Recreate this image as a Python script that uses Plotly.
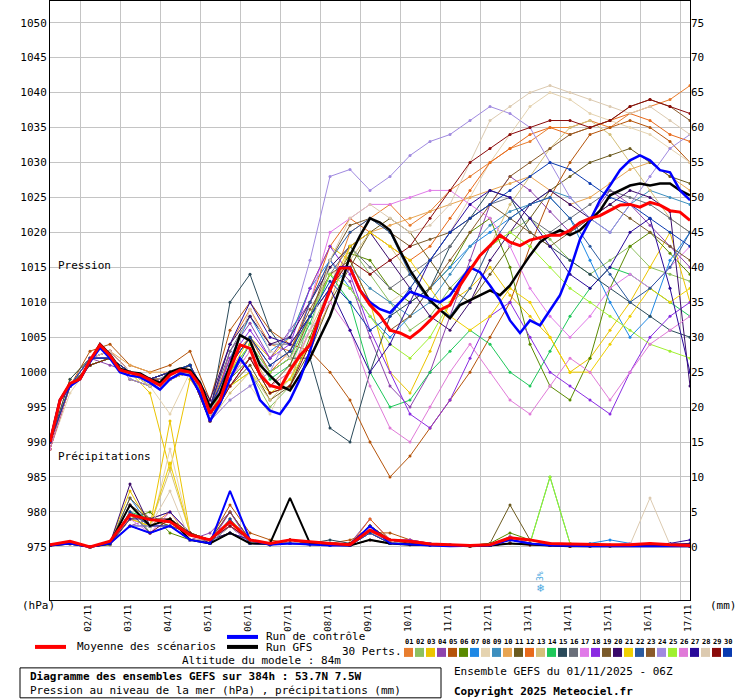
import plotly.graph_objects as go

hours6 = list(range(0, 385, 6))
hours12 = list(range(0, 385, 12))
day_labels = ["02/11","03/11","04/11","05/11","06/11","07/11","08/11","09/11","10/11",
              "11/11","12/11","13/11","14/11","15/11","16/11","17/11"]
day_hours = [18 + 24*k for k in range(16)]

mean_p = [990,996,998.4,999,1001.7,1003.9,1002.4,1000.3,999.9,999.6,998.9,998.1,999.6,1000.3,1000,998.1,
          994.1,996,1000.3,1003.9,1003.4,999.6,998.1,997.7,1000.3,1002.4,1003.9,1008.1,1011.7,1014.9,1014.9,1011.7,
          1009.6,1008.1,1006,1005.6,1004.9,1006,1007.4,1008.9,1009.6,1012.4,1014.6,1016.7,1018.1,1019.6,1018.6,1018.1,
          1018.9,1019.3,1019.6,1019.6,1020.3,1021.4,1022,1022.4,1023.1,1023.9,1024,1023.6,1024.3,1023.9,1023.1,1022.9,1021.7]
ctrl_p = [990,996,998,999,1001.5,1003.5,1002,1000,999.5,999.3,998.5,997.5,999,999.8,999.5,997,
          993,995.5,999,1002,1000,996,994.5,994,996,999,1003,1008,1012,1015,1015,1011.7,
          1010,1009,1008.5,1010,1011.5,1011,1010.5,1010,1011,1013,1015,1014.3,1012.4,1010.3,1007.4,1005.6,
          1007.4,1006.7,1008.9,1011,1014.6,1019,1021.7,1024.6,1026.7,1028.9,1030.3,1031,1030.3,1028.9,1028.6,1026,1024.6]
gfs_p = [990,996,998.3,999,1001.5,1004,1002.5,1000.5,1000,999.8,999,998.5,1000,1000.5,1000.3,998.5,
         995,997,1001,1005.3,1004.5,1001,999.5,998.1,997.4,999.6,1002,1005,1008,1012,1016.7,1019.5,
         1022,1021.4,1020.3,1017.4,1014.6,1012.4,1010.3,1008.9,1007.7,1009.6,1010.3,1011,1011.7,1011,1012.4,1014.6,
         1016.7,1018.6,1019.6,1020.3,1019.6,1020.3,1021.7,1023.1,1025.3,1026,1026.7,1027,1026.7,1027,1027,1026,1025.3]

mean_r = [0.3,0.8,0,0.8,4.6,3.9,3.6,1.7,1,3.6,1,0.5,1,0.7,0.5,0.3,2.4,1,0.8,0.4,0.3,0.2,0.3,1.3,1,0.5,0.4,0.3,0.3,0.3,0.5,0.3,0.2]
ctrl_r = [0.2,0.5,0,0.5,3,2,3,1,0.5,8,1,0.3,0.5,0.3,0.2,0.2,3,0.5,0.3,0.2,0.1,0.1,0.2,1,0.5,0.2,0.1,0.1,0.1,0.1,0.2,0.1,0.1]
gfs_r = [0.2,0.5,0,0.5,6,3,4,1,0.5,2,0.5,0.5,7,0.5,0.3,0.2,1,0.5,0.3,0.3,0.2,0.1,0.2,0.5,0.3,0.2,0.1,0.1,0.1,0.1,0.2,0.1,0.1]

member_colors = ["#e87d2e","#8dc060","#ebc400","#8e44ad","#b5540a","#5a8a00","#1e88e5","#e5d3b0","#3d8fbf","#e8a552",
                 "#6b5a1e","#e86a1a","#d4c07a","#1ec85a","#2a4a5a","#6a6f7a","#e07ae8","#8a2be2","#7a5a2a","#3a0a6a",
                 "#f0d000","#2a5aa0","#8a5a2a","#a08ae0","#a0f030","#e07ad8","#2a0a9a","#dccab0","#8a0a0a","#0a3ab0"]

m01=[989,998,1002,1003,1000,999,999,1000,995,1004,1009,1004,1003,1008,1012,1020,1022,1024,1021,1023,1026,1028,1030,1032,1033,1035,1035,1036,1035,1037,1038,1039,1041]
m02=[990,998,1001,1002,999,998,1000,1001,994,998,1000,995,998,1008,1015,1018,1014,1010,1006,1008,1012,1015,1018,1020,1022,1019,1016,1014,1016,1018,1015,1014,1013]
m03=[990,999,1002,1002,1000,997,986,999,995,1000,1005,1002,1005,1012,1018,1016,1010,1000,997,1003,1010,1012,1015,1011,1008,1005,1000,1002,1006,1010,1015,1020,1010]
m04=[990,998,1002,1001,1000,999,1000,1001,993,1003,1007,1002,1006,1010,1016,1013,1005,998,995,1000,1008,1016,1024,1028,1026,1023,1020,1022,1026,1024,1021,1018,1015]
m05=[989,998,1003,1004,1001,1000,1001,1003,996,1006,1010,1006,1004,1003,1000,996,990,985,988,992,996,1000,1005,1010,1018,1025,1030,1034,1035,1036,1035,1033,1030]
m06=[990,998,1001,1002,1000,999,999,1000,993,999,1002,997,998,1005,1012,1017,1016,1012,1010,1012,1015,1020,1022,1015,1004,998,996,1002,1012,1018,1020,1017,1014]
m07=[990,998,1002,1003,1000,999,1000,1001,994,1002,1008,1003,1005,1012,1016,1012,1008,1005,1008,1012,1015,1018,1020,1022,1024,1025,1022,1016,1010,1005,1008,1016,1020]
m08=[989,997,1001,1002,999,998,994,1000,993,996,998,994,1000,1008,1014,1015,1012,1010,1012,1016,1020,1025,1030,1034,1038,1040,1039,1037,1036,1035,1034,1032,1030]
m09=[990,998,1002,1002,1000,999,1000,1000,995,1001,1005,1000,1002,1008,1012,1015,1012,1010,1008,1010,1014,1018,1021,1023,1024,1026,1025,1022,1020,1024,1026,1025,1024]
m10=[990,998,1002,1003,1001,1000,1000,1001,994,999,1003,998,1000,1004,1010,1018,1020,1021,1022,1023,1024,1025,1026,1027,1028,1026,1024,1025,1027,1029,1030,1028,1026]
m11=[990,998,1001,1002,1000,998,999,1000,994,998,1001,996,998,1003,1010,1015,1020,1022,1020,1016,1012,1010,1014,1018,1022,1026,1028,1030,1031,1032,1030,1028,1027]
m12=[989,998,1002,1003,1000,999,1000,1001,995,1002,1005,1000,1003,1010,1018,1022,1020,1018,1016,1018,1022,1026,1030,1032,1034,1035,1034,1035,1036,1037,1036,1034,1033]
m13=[990,998,1002,1002,999,998,999,1000,993,997,1000,996,999,1006,1012,1016,1020,1018,1014,1010,1008,1012,1018,1024,1028,1032,1035,1036,1034,1030,1026,1022,1020]
m14=[990,998,1001,1002,1000,999,1000,1001,994,1000,1004,999,1001,1007,1014,1010,1000,995,996,1000,1003,1006,1004,1000,998,1003,1008,1012,1015,1014,1012,1010,1008]
m15=[990,999,1002,1003,1000,999,1000,1000,994,1010,1014,1006,1002,1002,992,990,1000,1008,1010,1012,1018,1022,1026,1025,1020,1018,1016,1014,1012,1010,1008,1006,1005]
m16=[990,998,1002,1002,1000,998,1000,1001,995,1003,1008,1004,1004,1008,1014,1018,1015,1012,1014,1016,1018,1022,1024,1025,1022,1020,1022,1024,1026,1025,1024,1022,1020]
m17=[990,998,1002,1002,1000,999,999,1000,994,999,1003,1000,1002,1010,1020,1022,1024,1024,1025,1026,1026,1024,1022,1018,1012,1008,1005,1008,1012,1014,1012,1015,1018]
m18=[990,998,1002,1003,1000,999,1000,1000,994,1002,1006,1002,1004,1012,1018,1014,1006,1000,994,992,996,1002,1008,1010,1005,1000,998,996,994,1000,1005,1008,1010]
m19=[989,998,1001,1002,999,998,999,1000,993,998,1002,998,1001,1008,1016,1021,1022,1020,1018,1019,1020,1022,1024,1022,1020,1018,1020,1022,1024,1022,1020,1018,1016]
m20=[990,998,1002,1002,1000,999,1000,1001,996,1004,1008,1004,1005,1010,1015,1018,1020,1016,1012,1008,1006,1010,1016,1020,1024,1026,1024,1022,1024,1026,1025,1023,998]
m21=[990,998,1002,1003,1000,998,999,1000,994,998,1000,997,999,1004,1012,1018,1020,1018,1016,1012,1008,1006,1008,1012,1010,1005,1000,1000,1004,1008,1012,1010,1012]
m22=[990,998,1001,1002,1000,999,1000,1000,993,999,1004,1000,1002,1010,1016,1020,1022,1020,1014,1010,1008,1012,1018,1022,1024,1025,1022,1018,1014,1010,1012,1015,1020]
m23=[990,998,1002,1003,1000,999,999,1001,995,1001,1005,1001,1003,1009,1014,1016,1010,1006,1008,1012,1016,1020,1024,1028,1030,1032,1034,1035,1036,1038,1039,1038,1036]
m24=[990,998,1002,1002,999,998,1000,1000,993,996,998,1000,1006,1016,1028,1029,1026,1028,1031,1033,1034,1036,1038,1037,1035,1030,1025,1022,1020,1024,1028,1032,1034]
m25=[990,998,1001,1002,1000,999,1000,1001,994,1000,1004,1000,1002,1008,1014,1012,1008,1004,1002,1005,1010,1015,1018,1020,1018,1015,1012,1010,1008,1006,1004,1003,1002]
m26=[989,998,1002,1003,1000,999,1000,1000,994,998,1002,998,1000,1006,1010,1006,998,992,990,995,1000,1004,1000,996,994,998,1002,1000,996,1000,1004,1006,1008]
m27=[990,998,1002,1002,1000,999,1000,1001,995,1004,1010,1005,1004,1008,1012,1006,1000,1004,1010,1016,1020,1024,1026,1025,1022,1018,1014,1012,1015,1020,1022,1012,1000]
m28=[990,998,1002,1003,1000,998,999,1000,994,1001,1009,1003,1002,1006,1016,1022,1024,1022,1020,1021,1024,1030,1036,1038,1040,1041,1040,1039,1038,1037,1038,1036,1034]
m29=[990,998,1001,1002,1000,999,1000,1000,993,998,1002,997,998,1004,1012,1016,1014,1016,1018,1022,1026,1030,1032,1034,1035,1036,1036,1035,1036,1038,1039,1038,1037]
m30=[990,998,1002,1002,1000,999,1000,1001,995,1001,1005,1001,1003,1008,1013,1010,1006,1008,1012,1016,1020,1022,1024,1026,1028,1030,1029,1027,1025,1024,1022,1020,1018]
members_p = [m01,m02,m03,m04,m05,m06,m07,m08,m09,m10,m11,m12,m13,m14,m15,m16,m17,m18,m19,m20,
             m21,m22,m23,m24,m25,m26,m27,m28,m29,m30]

r01=[0.2,0.5,0,0.3,4,3,5,2,1,4,0.5,0.5,1,0.5,0.3,0.5,3,1,1,0.5,0.3,0.2,0.3,1,0.5,0.3,0.2,0.2,0.2,0.3,0.5,0.3,0.2]
r02=[0.3,0.6,0,0.5,6,2,3,1,0.5,3,1,0.3,0.5,0.3,0.2,0.3,2,0.5,0.5,0.3,0.2,0.1,0.2,0.5,0.3,0.2,0.2,0.1,0.2,0.2,0.3,0.2,0.1]
r03=[0.2,0.4,0,0.6,8,3,18,2,1,2,0.5,0.5,0.5,0.3,0.2,0.2,1,0.5,0.3,0.2,0.2,0.1,0.3,0.5,0.3,0.2,0.1,0.2,0.1,0.2,0.3,0.2,0.1]
r04=[0.3,0.5,0,0.4,3,4,4,1,2,5,1,0.5,1,0.5,0.2,0.5,4,1,0.5,0.3,0.2,0.2,0.2,1.5,0.5,0.3,0.2,0.2,0.2,0.2,0.3,0.2,0.2]
r05=[0.2,0.6,0,0.5,5,3,3,2,1,6,2,1,0.5,0.5,0.5,1,2,2,1,0.5,0.3,0.2,0.2,0.5,0.3,0.2,0.2,0.2,0.3,0.5,0.5,0.3,0.2]
r06=[0.3,0.5,0,0.3,4,5,2,1,0.5,3,0.5,0.3,1,0.5,0.3,0.2,3,1,0.5,0.3,0.3,0.2,0.5,2,1,0.5,0.3,0.2,0.2,0.3,0.3,0.2,0.2]
r07=[0.2,0.4,0,0.5,7,3,4,1,1,2,0.5,0.5,0.5,0.3,0.2,0.3,2,0.5,0.3,0.2,0.2,0.2,0.3,0.5,0.3,0.3,0.2,0.5,1,0.5,0.3,0.2,0.1]
r08=[0.3,0.5,0,0.5,3,2,14,2,1,3,1,0.5,0.5,0.5,0.3,0.2,1,0.5,0.5,0.3,0.2,0.1,0.2,0.5,0.3,0.2,0.1,0.1,0.2,0.2,0.2,0.2,0.1]
r09=[0.2,0.5,0,0.4,5,3,3,2,0.5,4,0.5,0.3,1,0.5,0.2,0.2,2,1,0.5,0.3,0.2,0.2,0.2,1,0.5,0.2,0.2,0.2,0.2,0.2,0.3,0.2,0.2]
r10=[0.3,0.6,0,0.5,4,4,5,1,1,3,1,0.5,0.5,0.3,0.3,0.3,3,0.5,0.3,0.2,0.2,0.1,0.2,0.5,0.2,0.2,0.1,0.1,0.1,0.2,0.3,0.2,0.1]
r11=[0.2,0.5,0,0.6,6,3,4,2,1,5,1,0.5,1,0.5,0.3,0.5,2,1,0.5,0.3,0.3,0.2,0.5,6,1,0.5,0.3,0.2,0.2,0.3,0.5,0.3,0.2]
r12=[0.3,0.4,0,0.5,5,2,3,1,0.5,4,0.5,0.3,0.5,0.3,0.2,0.2,4,1,0.5,0.3,0.2,0.2,0.3,1,0.5,0.3,0.2,0.2,0.2,0.2,0.3,0.2,0.2]
r13=[0.2,0.5,0,0.5,4,3,11,2,1,3,1,0.5,1,0.5,0.3,0.3,2,0.5,0.3,0.2,0.2,0.1,0.2,0.5,0.3,0.2,0.2,0.2,0.2,0.2,0.3,0.2,0.1]
r14=[0.3,0.5,0,0.4,5,4,3,1,1,4,0.5,0.5,0.5,0.3,0.2,0.5,2,1,0.5,0.5,0.3,0.2,0.3,1,0.5,10,0.5,0.3,0.2,0.3,0.3,0.2,0.2]
r15=[0.2,0.6,0,0.5,3,3,4,2,0.5,2,1,0.3,0.5,0.5,1,0.5,3,1,0.5,0.3,0.2,0.2,0.2,0.5,0.3,0.2,0.2,0.2,0.2,0.2,0.3,0.2,0.2]
r16=[0.3,0.5,0,0.5,6,3,3,1,1,3,0.5,0.5,1,0.5,0.3,0.3,2,0.5,0.5,0.3,0.2,0.1,0.2,0.5,0.3,0.2,0.1,0.1,0.1,0.2,0.3,0.2,0.1]
r17=[0.2,0.4,0,0.6,4,2,5,2,1,4,1,0.5,0.5,0.3,0.2,0.2,1,0.5,0.3,0.2,0.2,0.2,0.3,1,0.5,0.3,0.2,0.2,0.3,0.5,0.5,0.5,0.3]
r18=[0.3,0.5,0,0.5,5,3,4,1,0.5,5,0.5,0.3,1,0.5,0.3,0.5,3,1,1,0.5,0.3,0.2,0.2,0.5,0.3,0.5,0.3,0.2,0.2,0.3,0.3,0.2,0.2]
r19=[0.2,0.5,0,0.4,7,4,3,2,1,3,1,0.5,0.5,0.3,0.2,0.3,2,0.5,0.5,0.3,0.2,0.2,0.2,0.5,0.3,0.2,0.2,0.2,0.2,0.2,0.3,0.2,0.2]
r20=[0.3,0.6,0,0.5,9,3,4,1,1,2,0.5,0.5,0.5,0.5,0.3,0.2,2,1,0.5,0.3,0.2,0.1,0.2,0.5,0.3,0.2,0.1,0.2,0.2,0.2,0.3,0.3,0.5]
r21=[0.2,0.5,0,0.5,4,3,12,2,0.5,4,1,0.3,1,0.5,0.2,0.2,1,0.5,0.3,0.2,0.2,0.2,0.3,1,0.5,0.3,0.2,0.2,0.2,0.2,0.3,0.2,0.2]
r22=[0.3,0.5,0,0.4,5,2,3,1,1,3,0.5,0.5,0.5,0.3,0.3,0.3,3,1,0.5,0.3,0.2,0.2,0.2,0.5,0.3,0.2,0.2,0.1,0.2,0.2,0.3,0.2,0.1]
r23=[0.2,0.4,0,0.6,6,4,4,2,1,5,1,0.5,1,0.5,0.2,0.5,2,0.5,0.5,0.3,0.2,0.1,0.2,0.5,0.3,0.2,0.1,0.1,0.1,0.2,0.3,0.2,0.1]
r24=[0.3,0.5,0,0.5,3,3,3,1,0.5,3,0.5,0.3,0.5,0.3,0.2,0.2,2,1,0.5,0.3,0.3,0.2,0.3,1,0.5,0.3,0.2,0.2,0.2,0.2,0.3,0.2,0.2]
r25=[0.2,0.6,0,0.5,5,3,4,2,1,4,1,0.5,1,0.5,0.3,0.3,3,1,0.5,0.3,0.2,0.2,0.3,0.5,0.5,10,0.5,0.3,0.2,0.3,0.3,0.2,0.2]
r26=[0.3,0.5,0,0.4,6,3,3,1,1,3,0.5,0.5,0.5,0.3,0.2,0.3,2,0.5,0.3,0.2,0.2,0.1,0.2,0.5,0.3,0.2,0.2,0.2,0.2,0.2,0.3,0.2,0.1]
r27=[0.2,0.5,0,0.5,4,4,5,2,0.5,2,1,0.3,1,0.5,0.3,0.2,1,0.5,0.5,0.3,0.2,0.2,0.2,1,0.5,0.3,0.2,0.2,0.2,0.2,0.3,0.5,1]
r28=[0.3,0.4,0,0.6,5,3,8,1,1,4,0.5,0.5,0.5,0.3,0.2,0.3,2,1,0.5,0.3,0.2,0.2,0.3,0.5,0.3,0.2,0.2,0.2,0.2,0.3,7,0.3,0.2]
r29=[0.2,0.5,0,0.5,3,2,4,2,1,3,1,0.5,1,0.5,0.3,0.5,3,1,0.5,0.3,0.2,0.1,0.2,0.5,0.3,0.2,0.1,0.2,0.2,0.2,0.3,0.2,0.1]
r30=[0.3,0.5,0,0.4,5,3,3,1,0.5,4,0.5,0.3,0.5,0.3,0.2,0.2,2,0.5,0.3,0.2,0.2,0.2,0.2,1,0.5,0.3,0.2,0.2,0.2,0.2,0.3,0.2,0.2]
members_r = [r01,r02,r03,r04,r05,r06,r07,r08,r09,r10,r11,r12,r13,r14,r15,r16,r17,r18,r19,r20,
             r21,r22,r23,r24,r25,r26,r27,r28,r29,r30]

pres_ticks = list(range(975, 1051, 5))
prec_ticks = list(range(0, 76, 5))

FONT = "DejaVu Sans Mono"
W, H = 740, 700
L, R, T, B = 50, 690, 0, 600

def px(x):
    return (x - L) / (R - L)

def py(y):
    return (B - y) / (B - T)

fig = go.Figure()
for i in range(30):
    c = member_colors[i]
    fig.add_trace(go.Scatter(x=hours12, y=members_p[i], mode="lines+markers",
                             line=dict(color=c, width=1), marker=dict(size=3, color=c),
                             showlegend=False, hoverinfo="skip"))
    fig.add_trace(go.Scatter(x=hours12, y=members_r[i], mode="lines+markers", yaxis="y2",
                             line=dict(color=c, width=1), marker=dict(size=3, color=c),
                             showlegend=False, hoverinfo="skip"))
fig.add_trace(go.Scatter(x=hours6, y=gfs_p, mode="lines", line=dict(color="black", width=2.5), showlegend=False))
fig.add_trace(go.Scatter(x=hours6, y=ctrl_p, mode="lines", line=dict(color="#0000ff", width=2.5), showlegend=False))
fig.add_trace(go.Scatter(x=hours6, y=mean_p, mode="lines", line=dict(color="#ff0000", width=3), showlegend=False))
fig.add_trace(go.Scatter(x=hours12, y=gfs_r, mode="lines", yaxis="y2", line=dict(color="black", width=2), showlegend=False))
fig.add_trace(go.Scatter(x=hours12, y=ctrl_r, mode="lines", yaxis="y2", line=dict(color="#0000ff", width=2), showlegend=False))
fig.add_trace(go.Scatter(x=hours12, y=mean_r, mode="lines", yaxis="y2", line=dict(color="#ff0000", width=3), showlegend=False))

fig.update_layout(
    width=W, height=H, margin=dict(l=L, r=W-R, t=T+1, b=H-B),
    plot_bgcolor="white", paper_bgcolor="white",
    font=dict(family=FONT, size=11, color="black"),
    xaxis=dict(range=[0, 384], tickvals=day_hours, ticktext=day_labels, tickangle=-90,
               showgrid=True, gridcolor="#c4c4c4", gridwidth=1, zeroline=False,
               showline=True, linecolor="black", mirror=True, ticks="", ticklabelshift=8,
               ticklabelstandoff=0, tickfont=dict(size=9)),
    yaxis=dict(range=[967.4, 1053.1], tickvals=pres_ticks + [970], ticktext=[str(v) for v in pres_ticks] + [""],
               showgrid=True, gridcolor="#c4c4c4", zeroline=False,
               showline=True, linecolor="black", mirror=True, ticks="", tickfont=dict(size=11)),
    yaxis2=dict(range=[-7.6, 78.1], tickvals=prec_ticks, overlaying="y", side="right",
                showgrid=False, zeroline=False, ticks="", tickfont=dict(size=11)),
)

ann = []
def txt(x, y, s, size=11, bold=False, color="black", xanchor="left", angle=0):
    ann.append(dict(x=px(x), y=py(y), xref="paper", yref="paper", text=("<b>%s</b>" % s) if bold else s,
                    showarrow=False, xanchor=xanchor, yanchor="middle", textangle=angle,
                    font=dict(family=FONT, size=size, color=color)))

txt(56, 265, "Pression")
txt(56, 456, "Précipitations")
txt(20, 606, "(hPa)")
txt(708, 606, "(mm)")
txt(540, 588, "❄", size=12, color="#4aa8e0", xanchor="center")
txt(540, 576, "3%", size=8, color="#4aa8e0", xanchor="center", angle=-90)
txt(75, 647, "Moyenne des scénarios")
txt(264, 637, "Run de contrôle")
txt(264, 648, "Run GFS")
txt(180, 661, "Altitude du modele : 84m")
txt(340, 652, "30 Perts.")
txt(28, 677, "Diagramme des ensembles GEFS sur 384h : 53.7N 7.5W", bold=True)
txt(28, 691, "Pression au niveau de la mer (hPa) , précipitations (mm)")
txt(452, 672, "Ensemble GEFS du 01/11/2025 - 06Z")
txt(452, 692, "Copyright 2025 Meteociel.fr", bold=True)

shapes = []
def line(x0, y0, x1, y1, color, w):
    shapes.append(dict(type="line", xref="paper", yref="paper", x0=px(x0), y0=py(y0), x1=px(x1), y1=py(y1),
                       line=dict(color=color, width=w)))
line(35, 647, 66, 647, "#ff0000", 4)
line(227, 637, 258, 637, "#0000ff", 4)
line(227, 647, 258, 647, "black", 4)
for i in range(30):
    x0 = 404 + 11 * i
    ann.append(dict(x=px(x0 + 4.5), y=py(642), xref="paper", yref="paper", text="<b>%02d</b>" % (i + 1),
                    showarrow=False, xanchor="center", yanchor="middle",
                    font=dict(family=FONT, size=7, color="black")))
    shapes.append(dict(type="rect", xref="paper", yref="paper", x0=px(x0), x1=px(x0 + 9), y0=py(657), y1=py(648),
                       fillcolor=member_colors[i], line=dict(width=0)))
shapes.append(dict(type="rect", xref="paper", yref="paper", x0=px(20), x1=px(441), y0=py(698), y1=py(668),
                   line=dict(color="black", width=1), fillcolor="rgba(0,0,0,0)"))
fig.update_layout(annotations=ann, shapes=shapes)

fig.write_html("out.html", config={"displayModeBar": False})
with open("out.html", encoding="utf-8") as f:
    html = f.read()
html = html.replace("<head>", "<head><style>html,body{margin:0;padding:0;overflow:hidden}</style>", 1)
with open("out.html", "w", encoding="utf-8") as f:
    f.write(html)
